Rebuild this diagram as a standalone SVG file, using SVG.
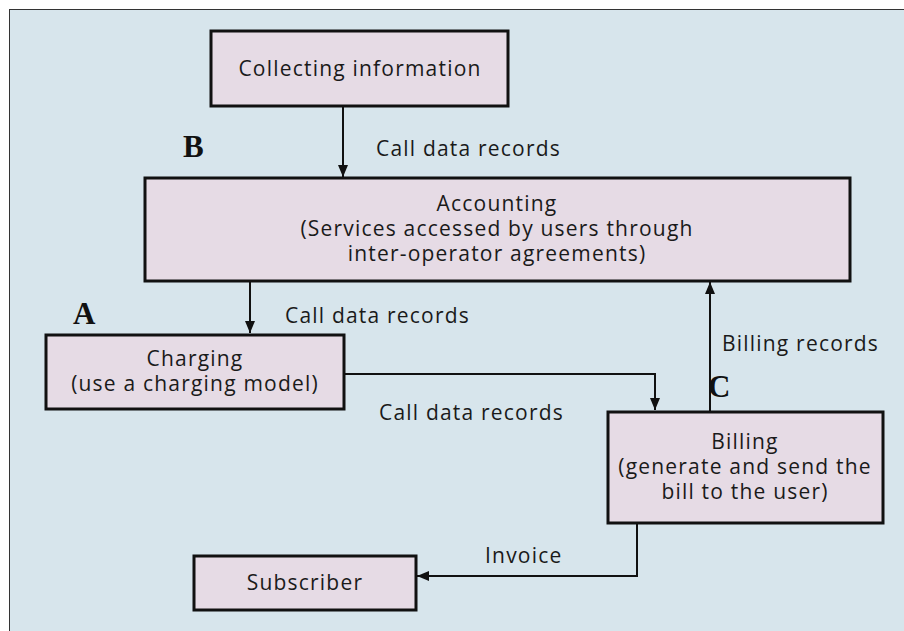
<svg xmlns="http://www.w3.org/2000/svg" width="904" height="631" viewBox="0 0 904 631">
<defs>
<style>
.box{fill:#e6dbe5;stroke:#111;stroke-width:3}
.t{font-family:"Open Sans","Noto Sans",sans-serif;font-size:21px;letter-spacing:1.2px;fill:#1a1a1a;text-anchor:middle}
.l{font-family:"Open Sans","Noto Sans",sans-serif;font-size:21px;letter-spacing:1.2px;fill:#1a1a1a}
.big{font-family:"Liberation Serif","Times New Roman",serif;font-weight:bold;font-size:31px;fill:#111}
.c{fill:none;stroke:#111;stroke-width:2}
</style>
<marker id="ah" viewBox="0 0 12 10" refX="12" refY="5" markerWidth="12" markerHeight="10" markerUnits="userSpaceOnUse" orient="auto">
<path d="M0,0 L12,5 L0,10 z" fill="#111"/>
</marker>
</defs>
<rect x="0" y="0" width="904" height="631" fill="#ffffff"/>
<rect x="9.5" y="9.5" width="900" height="630" fill="#d7e5ec" stroke="#333" stroke-width="1"/>

<g id="connectors">
<path class="c" d="M343,107 V177" marker-end="url(#ah)"/>
<path class="c" d="M250,281 V333" marker-end="url(#ah)"/>
<path class="c" d="M345,374 H655 V410" marker-end="url(#ah)"/>
<path class="c" d="M710,411 V282" marker-end="url(#ah)"/>
<path class="c" d="M637,523 V576 H417" marker-end="url(#ah)"/>
<text class="l" x="376" y="156">Call data records</text>
<text class="l" x="285" y="323">Call data records</text>
<text class="l" x="379" y="420">Call data records</text>
<text class="l" x="722" y="351">Billing records</text>
<text class="l" x="485" y="563">Invoice</text>
</g>

<g id="label-B"><text class="big" x="183" y="157">B</text></g>
<g id="label-A"><text class="big" x="73" y="324">A</text></g>
<g id="label-C"><text class="big" x="708" y="397">C</text></g>

<g id="collecting">
<rect class="box" x="211" y="31" width="297" height="75"/>
<text class="t" x="360" y="76">Collecting information</text>
</g>
<g id="accounting">
<rect class="box" x="145" y="178" width="705" height="103"/>
<text class="t" x="497" y="211">Accounting</text>
<text class="t" x="497" y="236">(Services accessed by users through</text>
<text class="t" x="497" y="261">inter-operator agreements)</text>
</g>
<g id="charging">
<rect class="box" x="46" y="335" width="298" height="74"/>
<text class="t" x="195" y="366">Charging</text>
<text class="t" x="195" y="391">(use a charging model)</text>
</g>
<g id="billing">
<rect class="box" x="608" y="412" width="275" height="111"/>
<text class="t" x="745" y="449">Billing</text>
<text class="t" x="745" y="474">(generate and send the</text>
<text class="t" x="745" y="499">bill to the user)</text>
</g>
<g id="subscriber">
<rect class="box" x="194" y="556" width="222" height="54"/>
<text class="t" x="305" y="590">Subscriber</text>
</g>
</svg>
